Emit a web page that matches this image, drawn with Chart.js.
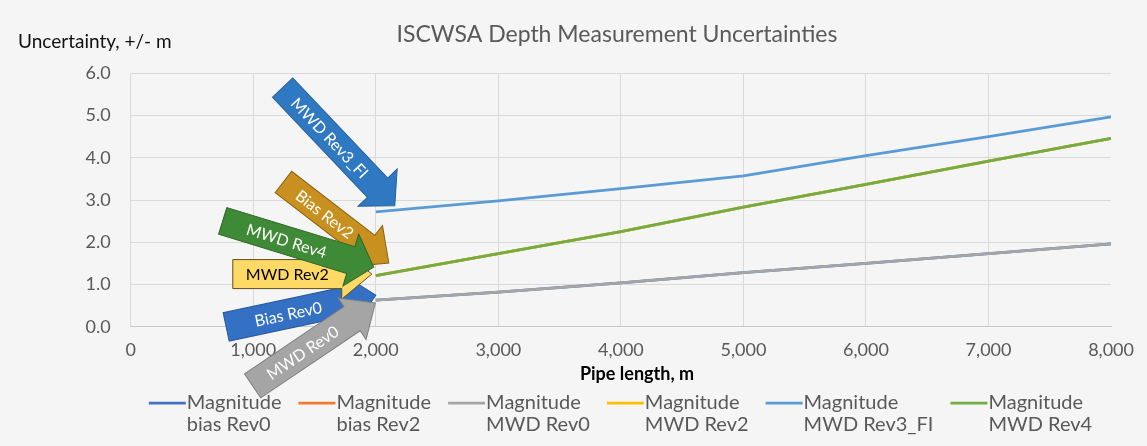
<!DOCTYPE html>
<html>
<head>
<meta charset="utf-8">
<title>ISCWSA Depth Measurement Uncertainties</title>
<script src="https://cdn.jsdelivr.net/npm/chart.js@4.4.1/dist/chart.umd.min.js"></script>
<style>
  html, body { margin: 0; padding: 0; background: #f5f5f5; }
  #wrap { width: 1147px; height: 446px; }
</style>
</head>
<body>
<div id="wrap"><canvas id="chart" width="1147" height="446"></canvas></div>
<script>
// Pipe length (m) and depth uncertainty (+/- m) for each error model
const pipeLength = [2000, 3000, 4000, 5000, 6000, 7000, 8000];
const biasRev0   = [0.63, 0.82, 1.04, 1.28, 1.50, 1.73, 1.96];
const biasRev2   = [1.21, 1.73, 2.25, 2.83, 3.37, 3.92, 4.46];
const mwdRev0    = [0.63, 0.82, 1.04, 1.28, 1.50, 1.73, 1.96];
const mwdRev2    = [1.21, 1.73, 2.25, 2.83, 3.37, 3.92, 4.46];
const mwdRev3FI  = [2.72, 2.98, 3.27, 3.57, 4.05, 4.50, 4.97];
const mwdRev4    = [1.21, 1.73, 2.25, 2.83, 3.37, 3.92, 4.46];

const seriesLabels = [
  ['Magnitude', 'bias Rev0'],
  ['Magnitude', 'bias Rev2'],
  ['Magnitude', 'MWD Rev0'],
  ['Magnitude', 'MWD Rev2'],
  ['Magnitude', 'MWD Rev3_FI'],
  ['Magnitude', 'MWD Rev4']
];
const seriesValues = [biasRev0, biasRev2, mwdRev0, mwdRev2, mwdRev3FI, mwdRev4];
const seriesColors = ['#4472C4', '#ED7D31', '#A5A5A5', '#FFC000', '#5B9BD5', '#70AD47'];
// lower number is painted on top
const seriesOrder  = [6, 5, 1, 4, 2, 3];

const xTickValues = [0, 1000, 2000, 3000, 4000, 5000, 6000, 7000, 8000];
const yTickValues = [0, 1, 2, 3, 4, 5, 6];

const chartTitle = 'ISCWSA Depth Measurement Uncertainties';
const yAxisTitle = 'Uncertainty, +/- m';
const xAxisTitle = 'Pipe length, m';

const FONT = 'Lato, "Open Sans", sans-serif';
const GREY_TEXT = '#595959';
const HEADER_CENTER = 617;

// Arrow call-outs, each pointing at the first point of a series
const callouts = [
  { text: 'MWD Rev3_FI', series: mwdRev3FI, dx: 19,   dy: -6,    angle: 46.5, length: 163, shaft: 28, headHalf: 27, headLen: 25, fill: '#2F78C2', stroke: '#26609c', color: '#ffffff' },
  { text: 'Bias Rev2',   series: biasRev2,  dx: 13,   dy: -12.5, angle: 37.6, length: 133, shaft: 27, headHalf: 26, headLen: 28, fill: '#C8901F', stroke: '#8a6214', color: '#ffffff' },
  { text: 'Bias Rev0',   series: biasRev0,  dx: 0,    dy: -5,    angle: -12,  length: 153, shaft: 29, headHalf: 25, headLen: 26, fill: '#3471C4', stroke: '#2a5a9c', color: '#ffffff' },
  { text: 'MWD Rev2',    series: mwdRev2,   dx: -4,   dy: -1.5,  angle: 0,    length: 139, shaft: 29, headHalf: 25, headLen: 30, fill: '#FFD966', stroke: '#5e4e1c', color: '#000000' },
  { text: 'MWD Rev4',    series: mwdRev4,   dx: -2,   dy: -8.5,  angle: 17,   length: 158, shaft: 28, headHalf: 27, headLen: 24, fill: '#3F8A36', stroke: '#2e6627', color: '#ffffff' },
  { text: 'MWD Rev0',    series: mwdRev0,   dx: -0.5, dy: 3,     angle: -34,  length: 148, shaft: 29, headHalf: 25, headLen: 28, fill: '#A5A5A5', stroke: '#7f7f7f', color: '#ffffff' }
];

const datasets = seriesValues.map((vals, i) => ({
  label: seriesLabels[i].join(' '),
  legendLines: seriesLabels[i],
  data: pipeLength.map((x, j) => ({ x: x, y: vals[j] })),
  borderColor: seriesColors[i],
  backgroundColor: seriesColors[i],
  borderWidth: 2.75,
  pointRadius: 0,
  tension: 0,
  fill: false,
  order: seriesOrder[i]
}));

function drawCallout(ctx, c, tipX, tipY) {
  const s = c.shaft / 2;
  ctx.save();
  ctx.translate(tipX, tipY);
  ctx.rotate(c.angle * Math.PI / 180);
  ctx.beginPath();
  ctx.moveTo(0, 0);
  ctx.lineTo(-c.headLen, -c.headHalf);
  ctx.lineTo(-c.headLen, -s);
  ctx.lineTo(-c.length, -s);
  ctx.lineTo(-c.length, s);
  ctx.lineTo(-c.headLen, s);
  ctx.lineTo(-c.headLen, c.headHalf);
  ctx.closePath();
  ctx.fillStyle = c.fill;
  ctx.fill();
  ctx.lineWidth = 1;
  ctx.strokeStyle = c.stroke;
  ctx.stroke();
  ctx.fillStyle = c.color;
  ctx.font = '16px ' + FONT;
  ctx.textAlign = 'center';
  ctx.textBaseline = 'middle';
  ctx.fillText(c.text, -(c.length + c.headLen) / 2, 1);
  ctx.restore();
}

const calloutPlugin = {
  id: 'callouts',
  afterDatasetsDraw(chart) {
    const { ctx, scales } = chart;
    callouts.forEach(c => {
      const tipX = scales.x.getPixelForValue(pipeLength[0]) + c.dx;
      const tipY = scales.y.getPixelForValue(c.series[0]) + c.dy;
      drawCallout(ctx, c, tipX, tipY);
    });
  }
};

// Chart title, y-axis caption (horizontal, top-left) and x-axis caption
const headerPlugin = {
  id: 'headers',
  afterDraw(chart) {
    const ctx = chart.ctx;
    ctx.save();
    ctx.textBaseline = 'middle';
    ctx.textAlign = 'center';
    ctx.fillStyle = GREY_TEXT;
    ctx.font = '23px ' + FONT;
    ctx.fillText(chartTitle, HEADER_CENTER, 35);
    ctx.fillStyle = '#000000';
    ctx.font = 'bold 18px ' + FONT;
    ctx.fillText(xAxisTitle, 637, chart.chartArea.bottom + 47);
    ctx.textAlign = 'left';
    ctx.fillStyle = '#111111';
    ctx.font = '19px ' + FONT;
    ctx.fillText(yAxisTitle, 18, 42);
    ctx.restore();
  }
};

// Two-line legend below the x axis
const legendPlugin = {
  id: 'twoLineLegend',
  afterDraw(chart) {
    const ctx = chart.ctx;
    const sampleW = 37, gap = 18, lineH = 22;
    const y1 = 403;
    ctx.save();
    ctx.font = '20px ' + FONT;
    const widths = chart.data.datasets.map(ds =>
      sampleW + Math.max(...ds.legendLines.map(t => ctx.measureText(t).width)));
    const total = widths.reduce((a, b) => a + b, 0) + gap * (widths.length - 1);
    let x = 620 - total / 2;
    chart.data.datasets.forEach((ds, i) => {
      ctx.strokeStyle = ds.borderColor;
      ctx.lineWidth = 2.75;
      ctx.beginPath();
      ctx.moveTo(x, y1);
      ctx.lineTo(x + sampleW, y1);
      ctx.stroke();
      ctx.fillStyle = GREY_TEXT;
      ctx.textAlign = 'left';
      ctx.textBaseline = 'middle';
      ds.legendLines.forEach((t, k) => ctx.fillText(t, x + sampleW + 1, y1 + k * lineH));
      x += widths[i] + gap;
    });
    ctx.restore();
  }
};

new Chart(document.getElementById('chart'), {
  type: 'line',
  data: { datasets: datasets },
  plugins: [calloutPlugin, headerPlugin, legendPlugin],
  options: {
    responsive: false,
    animation: false,
    layout: { padding: { top: 73.3, right: 26, bottom: 62.3, left: 0 } },
    plugins: {
      legend: { display: false },
      title: { display: false },
      tooltip: { enabled: false }
    },
    scales: {
      x: {
        type: 'linear',
        min: 0,
        max: 8000,
        afterBuildTicks: s => { s.ticks = xTickValues.map(v => ({ value: v })); },
        afterFit: s => { s.height = 57; },
        grid: {
          color: ctx => (ctx.tick && ctx.tick.value === 8000) ? 'rgba(0,0,0,0)' : '#d9d9d9',
          lineWidth: 1,
          drawTicks: false
        },
        border: { display: true, color: '#c9c9c9', width: 1 },
        ticks: {
          padding: 13,
          color: GREY_TEXT,
          font: { family: FONT, size: 18 },
          maxRotation: 0,
          autoSkip: false,
          callback: v => v.toLocaleString('en-US')
        },
        title: { display: false }
      },
      y: {
        min: 0,
        max: 6,
        afterBuildTicks: s => { s.ticks = yTickValues.map(v => ({ value: v })); },
        afterFit: s => { s.width = 130.7; },
        grid: { color: '#d9d9d9', lineWidth: 1, drawTicks: false },
        border: { display: false },
        ticks: {
          padding: 20,
          color: GREY_TEXT,
          font: { family: FONT, size: 18 },
          callback: v => Number(v).toFixed(1)
        }
      }
    }
  }
});
</script>
</body>
</html>
